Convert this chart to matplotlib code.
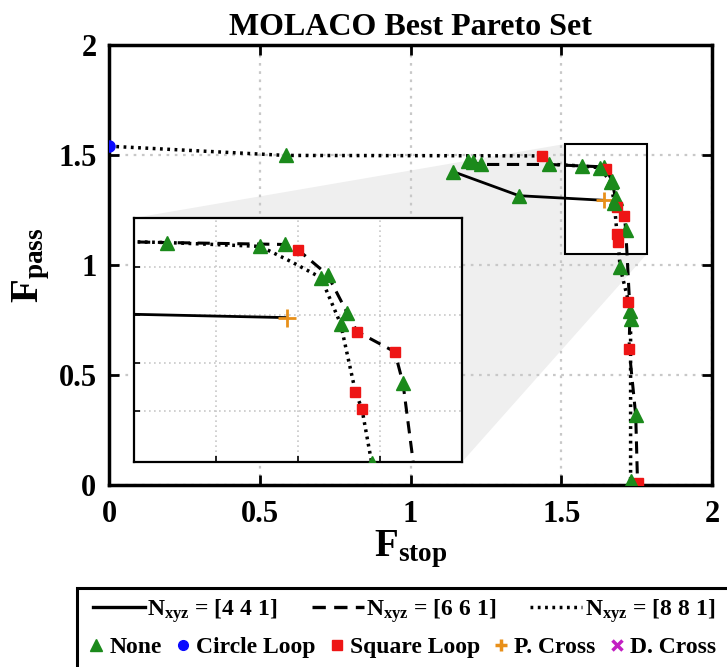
import matplotlib
matplotlib.use("Agg")
import matplotlib.pyplot as plt
from matplotlib.lines import Line2D
from matplotlib.patches import Polygon, Rectangle

# N_xyz = [4 4 1]  (solid)
x441 = [1.14, 1.36, 1.643]
y441 = [1.425, 1.315, 1.294]
k441 = ['tri', 'tri', 'plus']

# N_xyz = [6 6 1]  (dashed)
x661 = [1.19, 1.207, 1.233, 1.46, 1.570, 1.642, 1.650, 1.668, 1.680, 1.686,
        1.709, 1.714, 1.728, 1.725, 1.747, 1.753]
y661 = [1.475, 1.466, 1.457, 1.457, 1.450, 1.446, 1.435, 1.383, 1.304, 1.265,
        1.223, 1.158, 0.79, 0.62, 0.317, 0.01]
k661 = ['tri', 'tri', 'tri', 'tri', 'tri', 'tri', 'sq', 'tri', 'tri', 'sq',
        'sq', 'tri', 'tri', 'sq', 'tri', 'sq']

# N_xyz = [8 8 1]  (dotted)
x881 = [0.0, 0.587, 1.437, 1.465, 1.570, 1.627, 1.646, 1.664, 1.676, 1.685,
        1.689, 1.695, 1.723, 1.730, 1.730]
y881 = [1.54, 1.498, 1.496, 1.458, 1.450, 1.442, 1.410, 1.377, 1.281, 1.140,
        1.104, 0.991, 0.833, 0.755, 0.018]
k881 = ['circ', 'tri', 'sq', '-', '-', 'tri', '-', 'tri', 'tri', 'sq',
        'sq', 'tri', 'sq', 'tri', 'tri']

line_labels = [r'$\mathbf{N_{xyz}}$ = [4 4 1]', r'$\mathbf{N_{xyz}}$ = [6 6 1]',
               r'$\mathbf{N_{xyz}}$ = [8 8 1]']
marker_labels = ['None', 'Circle Loop', 'Square Loop', 'P. Cross', 'D. Cross']

# zoom window shown in the main axes
zoom_box = (1.512, 1.05, 0.272, 0.50)

GREEN = '#1b8a1b'
BLUE = '#0a0aff'
RED = '#ee1515'
ORANGE = '#e8901a'
MAGENTA = '#c21fc2'

styles = {
    'tri': dict(marker='^', color=GREEN, ms=9.5),
    'circ': dict(marker='o', color=BLUE, ms=8),
    'sq': dict(marker='s', color=RED, ms=7),
    'plus': dict(marker='+', color=ORANGE, ms=12, mew=2),
}

plt.rcParams['font.family'] = 'Liberation Serif'
plt.rcParams['font.weight'] = 'bold'
plt.rcParams['mathtext.fontset'] = 'custom'
plt.rcParams['mathtext.rm'] = 'Liberation Serif:bold'
plt.rcParams['mathtext.bf'] = 'Liberation Serif:bold'
plt.rcParams['mathtext.it'] = 'Liberation Serif:bold:italic'


def draw(ax, x, y, kinds, ls, lw, scale=1.0):
    ax.plot(x, y, color='k', ls=ls, lw=lw, zorder=3)
    for kind, st in styles.items():
        px = [a for a, k in zip(x, kinds) if k == kind]
        py = [b for b, k in zip(y, kinds) if k == kind]
        if px:
            ax.plot(px, py, ls='none', marker=st['marker'], color=st['color'],
                    ms=st['ms'] * scale, mew=st.get('mew', 1), zorder=4)


fig = plt.figure(figsize=(7.27, 6.67), dpi=100)
ax = fig.add_axes([109 / 727, 182 / 667, 603 / 727, 440 / 667])
ax.set_xlim(0, 2)
ax.set_ylim(0, 2)
ax.set_xticks([0, 0.5, 1, 1.5, 2])
ax.set_xticklabels(['0', '0.5', '1', '1.5', '2'])
ax.set_yticks([0, 0.5, 1, 1.5, 2])
ax.set_yticklabels(['0', '0.5', '1', '1.5', '2'])
ax.tick_params(direction='in', length=7, width=2, top=True, right=True,
               labelsize=22)
ax.tick_params(axis='x', pad=11)
ax.tick_params(axis='y', pad=9)
for sp in ax.spines.values():
    sp.set_linewidth(2.5)
ax.grid(True, ls=(0, (1.2, 2.5)), color='#c8c8c8', lw=1.6)
ax.set_title('MOLACO Best Pareto Set', fontsize=23, fontweight='bold', pad=7)
ax.set_xlabel(r'$\mathbf{F_{stop}}$', fontsize=28)
ax.set_ylabel(r'$\mathbf{F_{pass}}$', fontsize=28)
ax.xaxis.set_label_coords(0.5, -0.1)
ax.yaxis.set_label_coords(-0.095, 0.5)

solid = '-'
dashed = (0, (4, 2.5))
dotted = (0, (0.8, 1.3))

draw(ax, x441, y441, k441, solid, 2.0)
draw(ax, x661, y661, k661, dashed, 2.2)
draw(ax, x881, y881, k881, dotted, 2.5)

ax.add_patch(Rectangle(zoom_box[:2], zoom_box[2], zoom_box[3], fill=False,
                       ec='k', lw=1.5, zorder=5))

# inset
axin = fig.add_axes([134 / 727, 205 / 667, 328 / 727, 244 / 667])
axin.set_xlim(1.55, 1.75)
axin.set_ylim(0.994, 1.501)
axin.set_xticks([1.6, 1.65, 1.7])
axin.set_yticks([1.1, 1.2, 1.3, 1.4])
axin.tick_params(direction='in', length=4, width=1.2, labelleft=False,
                 labelbottom=False)
axin.grid(True, ls=(0, (1, 2)), color='#c8c8c8', lw=1.2)
for sp in axin.spines.values():
    sp.set_linewidth(1.6)
draw(axin, x441, y441, k441, solid, 2.0, 1.1)
draw(axin, x661, y661, k661, dashed, 2.2, 1.1)
draw(axin, x881, y881, k881, dotted, 2.5, 1.1)

# gray connector between inset and zoom box (main axes fraction coords)
mp = ax.get_position()
ip = axin.get_position()
fx = lambda v: (v - mp.x0) / mp.width
fy = lambda v: (v - mp.y0) / mp.height
bx0, by0 = zoom_box[0] / 2, zoom_box[1] / 2
bx1, by1 = (zoom_box[0] + zoom_box[2]) / 2, (zoom_box[1] + zoom_box[3]) / 2
verts = [(fx(ip.x0), fy(ip.y1)), (bx0, by1), (bx0, by0), (bx1, by0),
         (fx(ip.x1), fy(ip.y0)), (fx(ip.x0), fy(ip.y0))]
ax.add_patch(Polygon(verts, closed=True, transform=ax.transAxes,
                     fc='#efefef', ec='none', zorder=1))

# legend
fig.add_artist(Rectangle((77 / 727, -0.05), 1.0, 0.05 + 79 / 667,
                         transform=fig.transFigure, fill=False, ec='k', lw=2.2))
h1 = [Line2D([], [], color='k', ls=solid, lw=2.4),
      Line2D([], [], color='k', ls=dashed, lw=2.4),
      Line2D([], [], color='k', ls=dotted, lw=2.5)]
fig.legend(h1, line_labels, loc='center left', bbox_to_anchor=(93 / 727, 1 - 611 / 667),
           ncol=3, frameon=False, handlelength=2.2, handletextpad=0.1,
           columnspacing=1.45, borderpad=0, borderaxespad=0,
           prop=dict(family='Liberation Serif', weight='bold', size=17))
h2 = [Line2D([], [], ls='none', marker='^', color=GREEN, ms=8),
      Line2D([], [], ls='none', marker='o', color=BLUE, ms=7),
      Line2D([], [], ls='none', marker='s', color=RED, ms=7),
      Line2D([], [], ls='none', marker='+', color=ORANGE, ms=9, mew=2.5),
      Line2D([], [], ls='none', marker='x', color=MAGENTA, ms=7, mew=2.5)]
fig.legend(h2, marker_labels, loc='center left', bbox_to_anchor=(88 / 727, 1 - 647 / 667),
           ncol=5, frameon=False, handlelength=0.7, handletextpad=0.2,
           columnspacing=0.55, borderpad=0, borderaxespad=0,
           prop=dict(family='Liberation Serif', weight='bold', size=17))

fig.savefig('out.png', dpi=100)
